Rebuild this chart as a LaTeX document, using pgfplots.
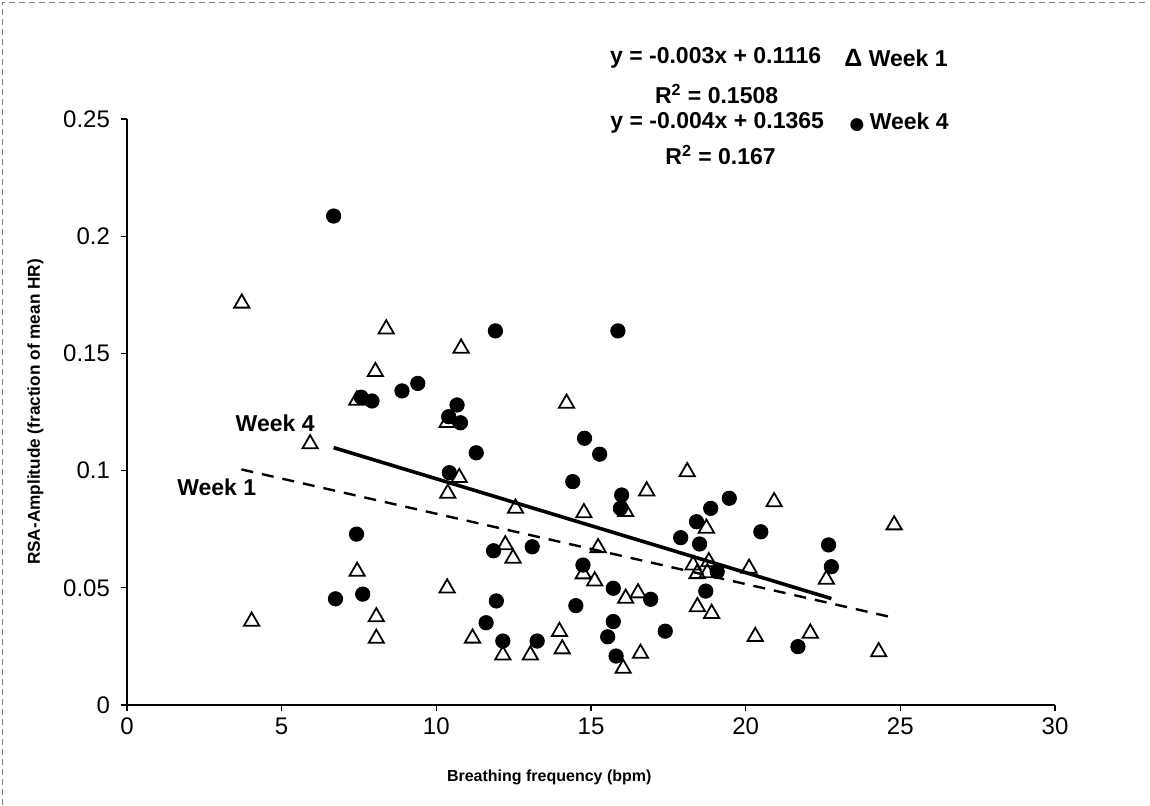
\documentclass[border=0pt]{standalone}
\usepackage{fontspec}
\setmainfont{Liberation Sans}
\usepackage{pgfplots}
\pgfplotsset{compat=1.18}
\begin{document}
\begin{tikzpicture}
\useasboundingbox (-63.5pt,-50pt) rectangle (511.5pt,352.5pt);
\draw[gray, densely dashed, line width=0.4pt] (-62.5pt,-50pt) -- (-62.5pt,351.5pt) -- (510.5pt,351.5pt);
\begin{axis}[
  scale only axis, width=464pt, height=293pt,
  xmin=0, xmax=30, ymin=0, ymax=0.25,
  axis lines=left, axis line style={-, line width=0.6pt},
  xtick={0,5,10,15,20,25,30},
  ytick={0,0.05,0.1,0.15,0.2,0.25},
  tick align=outside, major tick length=3pt,
  tick style={black, line width=0.6pt},
  /pgf/number format/assume math mode=true,
  yticklabel style={/pgf/number format/fixed, /pgf/number format/precision=2, xshift=-2pt},
  ticklabel style={font=\fontsize{12}{14}\selectfont},
  xlabel={Breathing frequency (bpm)},
  xlabel style={font=\bfseries\fontsize{8}{9}\selectfont, at={(axis description cs:0.455,0)}, anchor=north, yshift=-29pt},
  ylabel={RSA-Amplitude (fraction of mean HR)},
  ylabel style={font=\bfseries\fontsize{8.6}{10}\selectfont, yshift=3pt},
  clip=false,
]
% Week 1 (triangles)
\addplot[only marks, mark=triangle, mark size=4.4pt, mark options={black, line width=0.9pt}] table {
x y
3.71 0.1714
4.03 0.0357
5.92 0.1114
7.43 0.1300
7.44 0.0570
8.03 0.1422
8.06 0.0376
8.06 0.0284
8.38 0.1604
10.35 0.1205
10.37 0.0903
10.35 0.0499
10.74 0.0970
10.80 0.1522
11.17 0.0285
12.15 0.0213
12.23 0.0683
12.48 0.0626
12.56 0.0839
13.04 0.0213
13.98 0.0313
14.07 0.0239
14.21 0.1287
14.75 0.0559
14.77 0.0820
15.12 0.0529
15.23 0.0671
16.04 0.0156
16.12 0.0825
16.12 0.0455
16.52 0.0478
16.60 0.0220
16.80 0.0913
18.11 0.0995
18.30 0.0597
18.43 0.0560
18.44 0.0419
18.73 0.0754
18.81 0.0611
18.76 0.0564
18.90 0.0390
20.11 0.0583
20.31 0.0292
20.92 0.0867
22.09 0.0306
22.61 0.0536
24.30 0.0227
24.80 0.0768
};
% Week 4 (dots)
\addplot[only marks, mark=*, mark size=3.6pt, black] table {
x y
6.68 0.2086
6.74 0.0453
7.42 0.0729
7.57 0.1313
7.62 0.0473
7.92 0.1297
8.89 0.1340
9.40 0.1372
10.40 0.1230
10.42 0.0991
10.67 0.1280
10.78 0.1204
11.29 0.1076
11.61 0.0351
11.85 0.0658
11.91 0.1596
11.94 0.0444
12.15 0.0273
13.10 0.0675
13.26 0.0273
14.41 0.0953
14.51 0.0424
14.74 0.0597
14.79 0.1138
15.28 0.1070
15.54 0.0291
15.72 0.0498
15.72 0.0356
15.81 0.0209
15.87 0.1596
15.95 0.0839
15.99 0.0896
16.93 0.0451
17.40 0.0315
17.90 0.0714
18.41 0.0782
18.51 0.0687
18.71 0.0486
18.87 0.0839
19.08 0.0569
19.47 0.0882
20.49 0.0739
21.69 0.0249
22.68 0.0683
22.77 0.0590
};
% Trend lines
\addplot[black, line width=1.2pt, dash pattern=on 6pt off 4.5pt] coordinates {(3.7,0.1005) (24.6,0.0378)};
\addplot[black, line width=1.8pt] coordinates {(6.68,0.1098) (22.77,0.0454)};
% Labels
\node[font=\bfseries\fontsize{11.5}{13}\selectfont] at (axis cs:4.79,0.1204) {Week 4};
\node[font=\bfseries\fontsize{11.5}{13}\selectfont] at (axis cs:2.90,0.0929) {Week 1};
\node[font=\bfseries\fontsize{11.5}{13}\selectfont] at (axis cs:19.03,0.276) {y = -0.003x + 0.1116};
\node[font=\bfseries\fontsize{11.5}{13}\selectfont] at (axis cs:19.06,0.2607) {R\textsuperscript{2} = 0.1508};
\node[font=\bfseries\fontsize{11.5}{13}\selectfont] at (axis cs:19.08,0.2482) {y = -0.004x + 0.1365};
\node[font=\bfseries\fontsize{11.5}{13}\selectfont] at (axis cs:19.19,0.2346) {R\textsuperscript{2} = 0.167};
\node[font=\bfseries\fontsize{11.5}{13}\selectfont, anchor=west, inner sep=0pt] at (axis cs:23.18,0.276) {{\fontsize{12.5}{13}\selectfont Δ} Week 1};
\node[font=\bfseries\fontsize{11.5}{13}\selectfont, anchor=west, inner sep=0pt] at (axis cs:23.29,0.2482) {{\fontsize{15}{15}\selectfont\raisebox{-2.2pt}{●}}\,Week 4};
\end{axis}
\end{tikzpicture}
\end{document}
